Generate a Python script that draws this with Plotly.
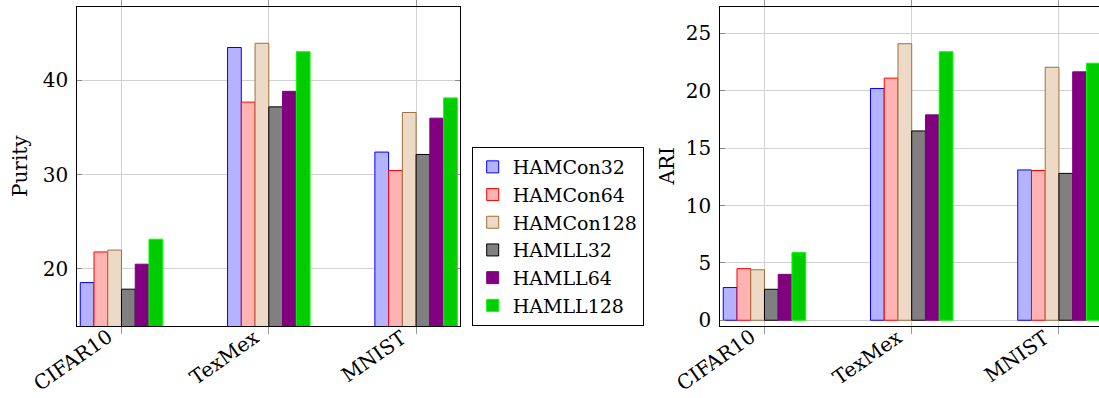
import plotly.graph_objects as go

categories = ["CIFAR10", "TexMex", "MNIST"]
series_names = ["HAMCon32", "HAMCon64", "HAMCon128", "HAMLL32", "HAMLL64", "HAMLL128"]

purity_hamcon32 = [18.55, 43.5, 32.4]
purity_hamcon64 = [21.8, 37.7, 30.45]
purity_hamcon128 = [22.0, 43.95, 36.6]
purity_hamll32 = [17.85, 37.2, 32.15]
purity_hamll64 = [20.5, 38.85, 36.0]
purity_hamll128 = [23.15, 43.05, 38.15]

ari_hamcon32 = [2.85, 20.2, 13.1]
ari_hamcon64 = [4.5, 21.1, 13.05]
ari_hamcon128 = [4.4, 24.1, 22.05]
ari_hamll32 = [2.7, 16.5, 12.8]
ari_hamll64 = [4.0, 17.9, 21.65]
ari_hamll128 = [5.9, 23.4, 22.4]

purity = [purity_hamcon32, purity_hamcon64, purity_hamcon128, purity_hamll32, purity_hamll64, purity_hamll128]
ari = [ari_hamcon32, ari_hamcon64, ari_hamcon128, ari_hamll32, ari_hamll64, ari_hamll128]

fills = ["#b3b3ff", "#ffb3b3", "#ecd9c6", "#808080", "#800080", "#00cc00"]
edges = ["#0000ff", "#ff0000", "#a0703f", "#000000", "#800080", "#00ff00"]

FONT = "DejaVu Serif"
FS = 20
W, H = 1099, 398

fig = go.Figure()
for i, name in enumerate(series_names):
    fig.add_trace(go.Bar(x=categories, y=purity[i], name=name, legendgroup=name,
                         marker=dict(color=fills[i], line=dict(color=edges[i], width=1)),
                         xaxis="x", yaxis="y", showlegend=True))
for i, name in enumerate(series_names):
    fig.add_trace(go.Bar(x=categories, y=ari[i], name=name, legendgroup=name,
                         marker=dict(color=fills[i], line=dict(color=edges[i], width=1)),
                         xaxis="x2", yaxis="y2", showlegend=False))

axis_common = dict(showgrid=True, gridcolor="#d0d0d0", gridwidth=1, zeroline=False,
                   showline=True, linecolor="black", linewidth=1, automargin=False,
                   tickfont=dict(family=FONT, size=FS, color="black"))

annotations = [
    dict(text="Purity", x=19.5 / W, y=0.5, xref="paper", yref="paper",
         textangle=-90, showarrow=False, xanchor="center", yanchor="middle",
         font=dict(family=FONT, size=FS, color="black")),
    dict(text="ARI", x=666 / W, y=0.5, xref="paper", yref="paper",
         textangle=-90, showarrow=False, xanchor="center", yanchor="middle",
         font=dict(family=FONT, size=FS, color="black")),
]
for xref in ["x", "x2"]:
    for cat in categories:
        annotations.append(dict(text=cat, x=cat, y=0, xref=xref, yref="paper",
                                textangle=-35, showarrow=False,
                                xanchor="right", yanchor="top",
                                xshift=-2, yshift=4,
                                font=dict(family=FONT, size=FS, color="black")))

fig.update_layout(
    width=W, height=H,
    margin=dict(l=0, r=0, t=7, b=72),
    plot_bgcolor="white", paper_bgcolor="white",
    barmode="group", bargap=0.44, bargroupgap=0,
    font=dict(family=FONT, size=FS, color="black"),
    xaxis=dict(domain=[77.3 / W, 460.3 / W], range=[-0.3, 2.3], anchor="y",
               ticks="outside", ticklen=7, tickcolor="#999999",
               mirror="ticks", showticklabels=False, **axis_common),
    yaxis=dict(domain=[0, 1], range=[13.94, 47.8], anchor="x", dtick=10,
               ticks="inside", ticklen=5, tickcolor="#888888", mirror="ticks",
               ticklabelstandoff=4, **axis_common),
    xaxis2=dict(domain=[720.3 / W, 1.0], range=[-0.3, 2.272], anchor="y2",
                ticks="outside", ticklen=7, tickcolor="#999999",
                mirror="ticks", showticklabels=False, **axis_common),
    yaxis2=dict(domain=[0, 1], range=[-0.5, 27.3], anchor="x2", dtick=5,
                ticks="inside", ticklen=5, tickcolor="#888888",
                ticklabelstandoff=4, **axis_common),
    legend=dict(x=471.7 / W, y=0, xanchor="left", yanchor="bottom",
                bordercolor="black", borderwidth=1, bgcolor="white",
                font=dict(family=FONT, size=19, color="black"),
                tracegroupgap=0, itemwidth=30),
    annotations=annotations,
)

fig.write_html("out.html")
